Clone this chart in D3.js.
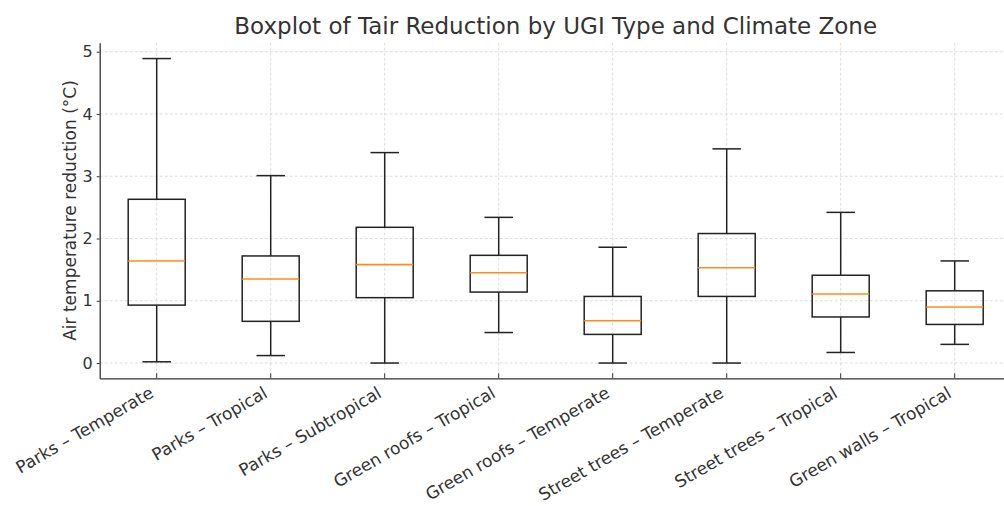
<!DOCTYPE html>
<html>
<head>
<meta charset="utf-8">
<script src="https://cdn.jsdelivr.net/npm/d3@7"></script>
<style>
  body { margin: 0; background: #fff; }
  text { font-family: "DejaVu Sans", sans-serif; fill: #333; }
</style>
</head>
<body>
<svg id="chart" width="1004" height="506"></svg>
<script>
// data
var categories = ["Parks – Temperate", "Parks – Tropical", "Parks – Subtropical",
  "Green roofs – Tropical", "Green roofs – Temperate", "Street trees – Temperate",
  "Street trees – Tropical", "Green walls – Tropical"];
var whiskerLow  = [0.02, 0.12, 0.00, 0.49, 0.00, 0.00, 0.17, 0.30];
var q1          = [0.93, 0.67, 1.05, 1.14, 0.46, 1.07, 0.74, 0.62];
var median      = [1.64, 1.35, 1.58, 1.45, 0.68, 1.53, 1.11, 0.90];
var q3          = [2.63, 1.72, 2.18, 1.73, 1.07, 2.08, 1.41, 1.16];
var whiskerHigh = [4.89, 3.01, 3.38, 2.34, 1.86, 3.44, 2.42, 1.64];
var yTicks = [0, 1, 2, 3, 4, 5];

var svg = d3.select("#chart");

// plot area (right edge runs past the picture, as in the reference)
var plotLeft = 99.7, plotRight = 1011.7, plotTop = 42.7, plotBottom = 378.3;

var x = d3.scaleBand()
    .domain(categories)
    .range([plotLeft, plotRight])
    .paddingInner(0)
    .paddingOuter(0);

var y = d3.scaleLinear()
    .domain([-0.245, 5.145])
    .range([plotBottom, plotTop]);

var boxes = categories.map(function(c, i) {
  return {cat: c, lo: whiskerLow[i], q1: q1[i], med: median[i], q3: q3[i], hi: whiskerHigh[i]};
});

// grid lines
var grid = svg.append("g").attr("stroke", "#d4d4d4").attr("stroke-width", 0.8)
    .attr("stroke-dasharray", "3,2");
grid.selectAll(".hg").data(yTicks).enter().append("line")
    .attr("x1", plotLeft).attr("x2", plotRight)
    .attr("y1", function(d) { return y(d); })
    .attr("y2", function(d) { return y(d); });
grid.selectAll(".vg").data(categories).enter().append("line")
    .attr("y1", plotTop).attr("y2", plotBottom)
    .attr("x1", function(d) { return x(d) + x.bandwidth() / 2; })
    .attr("x2", function(d) { return x(d) + x.bandwidth() / 2; });

// boxes
var bw = x.bandwidth() * 0.5;
var g = svg.append("g").selectAll("g")
    .data(boxes)
    .enter().append("g")
    .attr("transform", function(d) { return "translate(" + (x(d.cat) + x.bandwidth() / 2) + ",0)"; });

g.append("line")
    .attr("x1", 0).attr("x2", 0)
    .attr("y1", function(d) { return y(d.q3); })
    .attr("y2", function(d) { return y(d.hi); })
    .attr("stroke", "#222").attr("stroke-width", 1.5);
g.append("line")
    .attr("x1", 0).attr("x2", 0)
    .attr("y1", function(d) { return y(d.q1); })
    .attr("y2", function(d) { return y(d.lo); })
    .attr("stroke", "#222").attr("stroke-width", 1.5);
g.append("line")
    .attr("x1", -bw / 4).attr("x2", bw / 4)
    .attr("y1", function(d) { return y(d.hi); })
    .attr("y2", function(d) { return y(d.hi); })
    .attr("stroke", "#222").attr("stroke-width", 1.5);
g.append("line")
    .attr("x1", -bw / 4).attr("x2", bw / 4)
    .attr("y1", function(d) { return y(d.lo); })
    .attr("y2", function(d) { return y(d.lo); })
    .attr("stroke", "#222").attr("stroke-width", 1.5);
g.append("rect")
    .attr("x", -bw / 2)
    .attr("width", bw)
    .attr("y", function(d) { return y(d.q3); })
    .attr("height", function(d) { return y(d.q1) - y(d.q3); })
    .attr("fill", "none")
    .attr("stroke", "#222").attr("stroke-width", 1.5);
g.append("line")
    .attr("x1", -bw / 2).attr("x2", bw / 2)
    .attr("y1", function(d) { return y(d.med); })
    .attr("y2", function(d) { return y(d.med); })
    .attr("stroke", "#ff8c1a").attr("stroke-width", 1.6);

// y axis
var yAxis = svg.append("g")
    .attr("transform", "translate(" + plotLeft + ",0)")
    .call(d3.axisLeft(y).tickValues(yTicks).tickFormat(d3.format("d")).tickSizeInner(3).tickSizeOuter(0).tickPadding(4));
yAxis.select(".domain").attr("stroke", "#333").attr("stroke-width", 1.3);
yAxis.selectAll(".tick line").attr("stroke", "#333");
yAxis.selectAll(".tick text").attr("font-size", 16).attr("font-family", "DejaVu Sans").attr("fill", "#333");

// x axis
var xAxis = svg.append("g")
    .attr("transform", "translate(0," + plotBottom + ")")
    .call(d3.axisBottom(x).tickSizeInner(-5).tickSizeOuter(0).tickPadding(0));
xAxis.select(".domain").attr("stroke", "#333").attr("stroke-width", 1.3);
xAxis.selectAll(".tick line").attr("stroke", "#333");
xAxis.selectAll(".tick text")
    .attr("font-size", 17).attr("font-family", "DejaVu Sans").attr("fill", "#333")
    .attr("text-anchor", "end")
    .attr("dy", null).attr("y", null)
    .attr("transform", "translate(-2,18) rotate(-30)");

// title
svg.append("text")
    .attr("x", (plotLeft + plotRight) / 2)
    .attr("y", 34)
    .attr("text-anchor", "middle")
    .attr("font-size", 23)
    .text("Boxplot of Tair Reduction by UGI Type and Climate Zone");

// y label
svg.append("text")
    .attr("transform", "translate(76," + (plotTop + plotBottom) / 2 + ") rotate(-90)")
    .attr("text-anchor", "middle")
    .attr("font-size", 17)
    .text("Air temperature reduction (°C)");
</script>
</body>
</html>
